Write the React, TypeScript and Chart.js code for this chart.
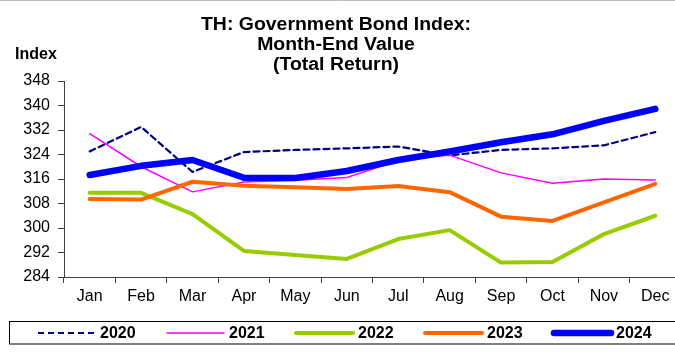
import React, { useEffect, useRef } from "react";
import { Chart, registerables } from "chart.js";

Chart.register(...registerables);

const months = ["Jan", "Feb", "Mar", "Apr", "May", "Jun", "Jul", "Aug", "Sep", "Oct", "Nov", "Dec"];
const titleLines = ["TH: Government Bond Index:", "Month-End Value", "(Total Return)"];
const yAxisTitle = "Index";
const yMin = 284;
const yMax = 348;
const yStep = 8;

const years = ["2020", "2021", "2022", "2023", "2024"];
const v2020 = [325, 333, 318.3, 324.8, 325.5, 326, 326.6, 323.7, 325.5, 326, 327, 331.3];
const v2021 = [330.8, 320, 311.8, 315, 315.6, 316.5, 322, 323.8, 318, 314.6, 316, 315.7];
const v2022 = [311.5, 311.5, 304.5, 292.5, 291.2, 289.9, 296.4, 299.3, 288.7, 288.9, 298, 304];
const v2023 = [309.5, 309.3, 315.1, 313.8, 313.3, 312.7, 313.7, 311.7, 303.7, 302.3, 308.4, 314.4];
const v2024 = [317.3, 320.3, 322.2, 316.4, 316.3, 318.6, 322.2, 325, 328, 330.6, 335, 338.9];

const seriesValues = [v2020, v2021, v2022, v2023, v2024];
const seriesColors = ["#000080", "#FF00FF", "#99CC00", "#FF6600", "#0000FF"];
const seriesWidths = [2.2, 1.5, 4, 4, 6.5];
const seriesDash: number[][] = [[6, 4], [], [], [], []];

const FONT = "'Liberation Sans', Arial, Helvetica, sans-serif";

const decorPlugin = {
  id: "decor",
  beforeDraw(chart: any) {
    const ctx = chart.ctx;
    ctx.save();
    ctx.fillStyle = "#ffffff";
    ctx.fillRect(0, 0, chart.width, chart.height);
    ctx.strokeStyle = "#bdbdbd";
    ctx.lineWidth = 1;
    ctx.beginPath();
    ctx.moveTo(0, 0.5);
    ctx.lineTo(chart.width, 0.5);
    ctx.stroke();
    ctx.restore();
  },
  afterDraw(chart: any) {
    const ctx = chart.ctx;
    ctx.save();
    // title
    ctx.fillStyle = "#000";
    ctx.font = `bold 18px ${FONT}`;
    ctx.textAlign = "center";
    ctx.textBaseline = "middle";
    const cx = 336;
    titleLines.forEach((t, i) => {
      ctx.save();
      ctx.translate(cx, 25 + i * 20);
      ctx.scale(1.08, 1);
      ctx.fillText(t, 0, 0);
      ctx.restore();
    });
    // axis title
    ctx.font = `bold 16px ${FONT}`;
    ctx.textAlign = "left";
    ctx.fillText(yAxisTitle, 15, 55);

    // legend
    ctx.strokeStyle = "#000";
    ctx.lineWidth = 1;
    ctx.strokeRect(9.5, 321.5, chart.width, 22.5);
    const ly = 333;
    chart.data.datasets.forEach((ds: any, i: number) => {
      const x0 = 38 + i * 129;
      ctx.save();
      ctx.strokeStyle = ds.borderColor;
      ctx.lineWidth = ds.borderWidth;
      ctx.setLineDash(ds.borderDash || []);
      ctx.lineCap = ds.borderDash && ds.borderDash.length ? "butt" : "round";
      ctx.beginPath();
      ctx.moveTo(x0, ly);
      ctx.lineTo(x0 + 57, ly);
      ctx.stroke();
      ctx.restore();
      ctx.fillStyle = "#000";
      ctx.font = `bold 16px ${FONT}`;
      ctx.textAlign = "left";
      ctx.textBaseline = "middle";
      ctx.fillText(ds.label, x0 + 62, ly + 1);
    });
    ctx.restore();
  },
};

export default function App() {
  const ref = useRef<HTMLCanvasElement | null>(null);
  useEffect(() => {
    if (!ref.current) return;
    const datasets = years.map((y, i) => ({
      label: y,
      data: seriesValues[i],
      borderColor: seriesColors[i],
      backgroundColor: seriesColors[i],
      borderWidth: seriesWidths[i],
      borderDash: seriesDash[i],
      borderCapStyle: "round" as const,
      borderJoinStyle: "round" as const,
      pointRadius: 0,
      tension: 0,
      fill: false,
      order: years.length - i,
    }));
    const chart = new Chart(ref.current, {
      type: "line",
      data: { labels: months, datasets },
      plugins: [decorPlugin],
      options: {
        animation: false,
        responsive: false,
        devicePixelRatio: 1,
        layout: { padding: { top: 81, right: 4, bottom: 42, left: 0 } },
        plugins: {
          legend: { display: false },
          title: { display: false },
          tooltip: { enabled: false },
        },
        scales: {
          x: {
            type: "category",
            offset: true,
            grid: {
              offset: true,
              drawOnChartArea: false,
              drawTicks: true,
              tickLength: 6,
              color: "#404040",
            },
            border: { color: "#404040", width: 1 },
            ticks: {
              color: "#000",
              font: { family: FONT, size: 16 },
              padding: 4,
              maxRotation: 0,
              autoSkip: false,
            },
            afterFit: (axis: any) => {
              axis.height = 35;
            },
          },
          y: {
            min: yMin,
            max: yMax,
            grid: {
              drawOnChartArea: false,
              drawTicks: true,
              tickLength: 6,
              color: "#404040",
            },
            border: { color: "#404040", width: 1 },
            ticks: {
              stepSize: yStep,
              color: "#000",
              font: { family: FONT, size: 16 },
              padding: 8,
            },
            afterFit: (axis: any) => {
              axis.width = 64;
            },
          },
        },
      },
    });
    return () => chart.destroy();
  }, []);
  return (
    <div
      style={{
        position: "fixed",
        left: 0,
        top: 0,
        width: 675,
        height: 354,
        overflow: "hidden",
        background: "#fff",
      }}
    >
      <canvas ref={ref} width={685} height={354} style={{ display: "block", width: 685, height: 354 }} />
    </div>
  );
}
